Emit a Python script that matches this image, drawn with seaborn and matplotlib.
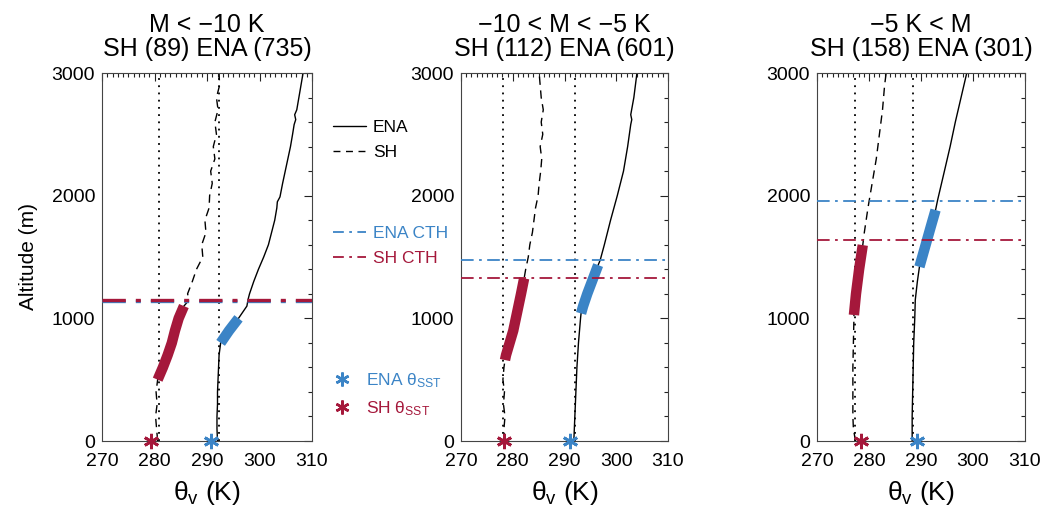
import numpy as np
import pandas as pd
import matplotlib
matplotlib.use("Agg")
import matplotlib.pyplot as plt
from matplotlib.lines import Line2D
from matplotlib.ticker import MultipleLocator
import seaborn as sns

sns.set_style("white")
plt.rcParams["font.family"] = ["Liberation Sans", "DejaVu Sans"]
plt.rcParams["mathtext.fontset"] = "custom"
plt.rcParams["mathtext.rm"] = "Liberation Sans"
plt.rcParams["mathtext.it"] = "Liberation Sans:italic"
plt.rcParams["text.color"] = "black"
plt.rcParams["axes.labelcolor"] = "black"

ENA_BLUE = "#3b84c6"
SH_RED = "#a5183b"

# ---- panel titles ----
titles = ["M < \u221210 K\nSH (89) ENA (735)",
          "\u221210 < M < \u22125 K\nSH (112) ENA (601)",
          "\u22125 K < M\nSH (158) ENA (301)"]

# ---- panel 1: M < -10 K ----
ena1_alt = [0, 100, 200, 300, 400, 500, 600, 700, 800, 900, 1000, 1100, 1150, 1200, 1300,
            1400, 1500, 1600, 1700, 1800, 1900, 1950, 1990, 2100, 2200, 2300, 2400, 2500,
            2580, 2620, 2660, 2700, 2800, 2900, 3000]
ena1_th = [292.0, 291.9, 291.9, 292.0, 292.0, 292.1, 292.2, 292.3, 292.6, 294.2, 296.0,
           297.6, 297.8, 298.1, 298.9, 299.8, 300.8, 301.7, 302.3, 302.9, 303.3, 303.4,
           303.9, 304.4, 304.9, 305.4, 305.9, 306.3, 306.6, 306.9, 306.7, 307.1, 307.5,
           307.9, 308.3]
sh1_alt = [0, 100, 200, 300, 400, 500, 600, 700, 800, 900, 1000, 1100, 1150, 1200, 1300,
           1400, 1500, 1600, 1700, 1800, 1900, 2000, 2100, 2200, 2300, 2400, 2500, 2600,
           2700, 2800, 2900, 3000]
sh1_th = [280.6, 280.4, 280.2, 280.5, 280.3, 280.6, 281.6, 282.5, 283.3, 283.9, 284.6,
          285.6, 286.6, 286.3, 287.2, 288.0, 289.2, 289.0, 289.8, 289.6, 290.4, 290.5,
          291.0, 290.7, 291.5, 291.2, 291.8, 291.5, 292.1, 291.8, 292.4, 292.3]
ena1_cloud = [800, 1095]
sh1_cloud = [500, 1120]
ena1_cth, sh1_cth = 1140, 1150
ena1_sst, sh1_sst = 290.8, 279.3
ena1_ref, sh1_ref = 292.2, 280.8

# ---- panel 2: -10 < M < -5 K ----
ena2_alt = [0, 200, 400, 600, 800, 1000, 1040, 1100, 1200, 1300, 1434, 1475, 1600, 1800,
            2000, 2200, 2400, 2580, 2620, 2660, 2800, 3000]
ena2_th = [291.8, 292.0, 292.2, 292.4, 292.7, 293.1, 293.2, 293.6, 294.4, 295.3, 296.5,
           296.9, 297.7, 298.9, 300.2, 301.4, 302.2, 302.8, 303.0, 302.8, 303.4, 304.0]
sh2_alt = [0, 100, 200, 300, 400, 500, 600, 660, 700, 800, 900, 1000, 1100, 1200, 1326,
           1400, 1500, 1600, 1700, 1800, 1900, 2000, 2100, 2200, 2300, 2400, 2500, 2600,
           2700, 2800, 2900, 3000]
sh2_th = [278.4, 278.3, 278.5, 278.2, 278.4, 278.1, 278.3, 278.5, 278.7, 279.4, 280.1,
          280.6, 281.1, 281.6, 282.2, 282.5, 283.0, 283.3, 283.8, 284.1, 284.4, 284.9,
          285.1, 285.4, 285.6, 285.3, 285.8, 285.5, 285.9, 285.5, 285.3, 285.1]
ena2_cloud = [1040, 1434]
sh2_cloud = [660, 1326]
ena2_cth, sh2_cth = 1475, 1331
ena2_sst, sh2_sst = 291.1, 278.4
ena2_ref, sh2_ref = 292.0, 278.1

# ---- panel 3: -5 K < M ----
ena3_alt = [0, 200, 400, 600, 800, 1000, 1150, 1300, 1420, 1600, 1750, 1883, 1965, 2200,
            2400, 2600, 2800, 3000]
ena3_th = [288.3, 288.3, 288.4, 288.5, 288.6, 288.8, 288.9, 289.3, 289.7, 290.9, 291.9,
           292.8, 293.2, 294.5, 295.6, 296.6, 297.7, 298.8]
sh3_alt = [0, 100, 200, 400, 600, 800, 1000, 1027, 1200, 1400, 1597, 1700, 1900, 2100,
           2300, 2500, 2700, 2900, 3000]
sh3_th = [277.4, 277.0, 276.9, 276.9, 276.9, 277.0, 277.1, 277.1, 277.5, 278.1, 278.8,
          279.1, 279.8, 280.6, 281.4, 282.0, 282.6, 283.0, 283.3]
ena3_cloud = [1420, 1883]
sh3_cloud = [1027, 1597]
ena3_cth, sh3_cth = 1956, 1638
ena3_sst, sh3_sst = 289.2, 278.5
ena3_ref, sh3_ref = 288.5, 277.4

panels = [
    dict(ena=(ena1_alt, ena1_th), sh=(sh1_alt, sh1_th), ena_cloud=ena1_cloud, sh_cloud=sh1_cloud,
         ena_cth=ena1_cth, sh_cth=sh1_cth, ena_sst=ena1_sst, sh_sst=sh1_sst,
         refs=(sh1_ref, ena1_ref), cth_lw=2.4),
    dict(ena=(ena2_alt, ena2_th), sh=(sh2_alt, sh2_th), ena_cloud=ena2_cloud, sh_cloud=sh2_cloud,
         ena_cth=ena2_cth, sh_cth=sh2_cth, ena_sst=ena2_sst, sh_sst=sh2_sst,
         refs=(sh2_ref, ena2_ref), cth_lw=1.3),
    dict(ena=(ena3_alt, ena3_th), sh=(sh3_alt, sh3_th), ena_cloud=ena3_cloud, sh_cloud=sh3_cloud,
         ena_cth=ena3_cth, sh_cth=sh3_cth, ena_sst=ena3_sst, sh_sst=sh3_sst,
         refs=(sh3_ref, ena3_ref), cth_lw=1.3),
]

W, H = 1048, 508
fig = plt.figure(figsize=(W / 100, H / 100), dpi=100)
lefts = [102, 461, 817]
widths = [210, 207, 208]
top_px, bot_px = 73, 441

asterisk = (6, 2, 0)

for i, (p, title) in enumerate(zip(panels, titles)):
    ax = fig.add_axes([lefts[i] / W, 1 - bot_px / H, widths[i] / W, (bot_px - top_px) / H])

    # reference dotted verticals
    for r in p["refs"]:
        ax.axvline(r, color="black", ls=(0, (1, 3)), lw=1.3, zorder=1)

    ena = pd.DataFrame({"alt": p["ena"][0], "theta": p["ena"][1]})
    sh = pd.DataFrame({"alt": p["sh"][0], "theta": p["sh"][1]})

    sns.lineplot(data=ena, x="theta", y="alt", sort=False, estimator=None,
                 color="black", lw=1.0, ax=ax, zorder=2)
    sns.lineplot(data=sh, x="theta", y="alt", sort=False, estimator=None,
                 color="black", lw=1.0, ax=ax, zorder=2, dashes=False)
    ax.lines[-1].set_linestyle((0, (6, 4)))

    # cloud layers highlighted on the profiles
    ena_c = ena[(ena.alt >= p["ena_cloud"][0]) & (ena.alt <= p["ena_cloud"][1])]
    sh_c = sh[(sh.alt >= p["sh_cloud"][0]) & (sh.alt <= p["sh_cloud"][1])]
    sns.lineplot(data=ena_c, x="theta", y="alt", sort=False, estimator=None,
                 color=ENA_BLUE, lw=7.5, ax=ax, zorder=3)
    sns.lineplot(data=sh_c, x="theta", y="alt", sort=False, estimator=None,
                 color=SH_RED, lw=7.5, ax=ax, zorder=3)
    for ln in ax.lines[-2:]:
        ln.set_solid_capstyle("butt")

    # cloud-top heights
    ax.axhline(p["ena_cth"], color=ENA_BLUE, ls=(0, (7, 3, 1.5, 3)), lw=p["cth_lw"], zorder=4)
    ax.axhline(p["sh_cth"], color=SH_RED, ls=(0, (7, 3, 1.5, 3)), lw=p["cth_lw"], zorder=4)

    # SST potential temperatures
    ax.plot([p["sh_sst"]], [0], marker=asterisk, ms=11, mew=2.0, color=SH_RED,
            ls="none", clip_on=False, zorder=6)
    ax.plot([p["ena_sst"]], [0], marker=asterisk, ms=11, mew=2.0, color=ENA_BLUE,
            ls="none", clip_on=False, zorder=6)

    ax.set_xlim(270, 310)
    ax.set_ylim(0, 3000)
    ax.xaxis.set_major_locator(MultipleLocator(10))
    ax.xaxis.set_minor_locator(MultipleLocator(1))
    ax.yaxis.set_major_locator(MultipleLocator(1000))
    ax.yaxis.set_minor_locator(MultipleLocator(200))
    ax.tick_params(which="both", direction="in", top=True, right=True, colors="#222222",
                   width=0.8)
    ax.tick_params(which="major", length=6)
    ax.tick_params(which="minor", length=3)
    ax.tick_params(axis="x", which="major", pad=9, labelsize=14, labelcolor="black")
    ax.tick_params(axis="y", which="major", pad=5, labelsize=14, labelcolor="black")
    for s in ax.spines.values():
        s.set_color("#444444")
        s.set_linewidth(0.8)

    ax.set_xlabel(r"$\mathregular{\theta_v}$ (K)", fontsize=19, labelpad=6)
    if i == 0:
        ax.set_ylabel("Altitude (m)", fontsize=15, labelpad=10)
    else:
        ax.set_ylabel("")
    ax.set_title(title, fontsize=18, linespacing=1.0, pad=12, color="black")

# ---- legend in the gap beside the first panel ----
def key(**kw):
    return Line2D([], [], **kw)

leg_kw = dict(frameon=False, fontsize=12.5, handlelength=1.9, handletextpad=0.4,
              borderaxespad=0, borderpad=0, labelspacing=0.55)

lg1 = fig.legend([key(color="black", lw=1.0), key(color="black", lw=1.0, ls=(0, (5, 4)))],
                 ["ENA", "SH"], loc="upper left",
                 bbox_to_anchor=(333 / W, 1 - 120 / H), **leg_kw)
lg2 = fig.legend([key(color=ENA_BLUE, lw=1.3, ls=(0, (6, 3, 1.5, 3))),
                  key(color=SH_RED, lw=1.3, ls=(0, (6, 3, 1.5, 3)))],
                 ["ENA CTH", "SH CTH"], loc="upper left",
                 bbox_to_anchor=(333 / W, 1 - 226 / H), labelcolor=[ENA_BLUE, SH_RED], **leg_kw)
lg3 = fig.legend([key(color=ENA_BLUE, marker=asterisk, ms=10, mew=1.8, ls="none"),
                  key(color=SH_RED, marker=asterisk, ms=10, mew=1.8, ls="none")],
                 [r"ENA $\mathregular{\theta_{SST}}$", r"SH $\mathregular{\theta_{SST}}$"],
                 loc="upper left", bbox_to_anchor=(326 / W, 1 - 371 / H),
                 labelcolor=[ENA_BLUE, SH_RED], **leg_kw)

fig.savefig("out.png", dpi=100)
